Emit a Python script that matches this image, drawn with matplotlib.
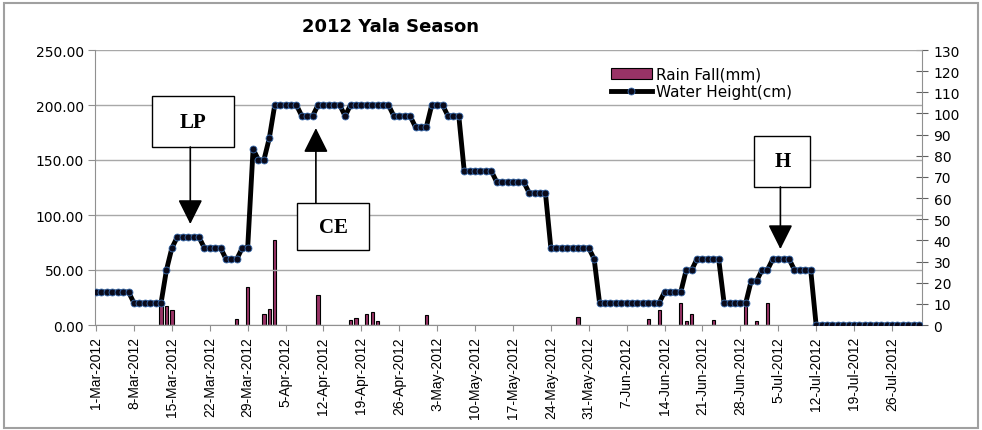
import numpy as np
import pandas as pd
import matplotlib
matplotlib.use("Agg")
import matplotlib.pyplot as plt
import matplotlib.dates as mdates
from matplotlib.patches import Rectangle

## daily water height, 1-Mar-2012 .. 31-Jul-2012
water_height = [
    30, 30, 30, 30, 30, 30, 30, 20, 20, 20, 20, 20, 20, 50, 70, 80, 80, 80, 80, 80,
    70, 70, 70, 70, 60, 60, 60, 70, 70, 160, 150, 150, 170, 200, 200, 200, 200, 200, 190, 190,
    190, 200, 200, 200, 200, 200, 190, 200, 200, 200, 200, 200, 200, 200, 200, 190, 190, 190, 190, 180,
    180, 180, 200, 200, 200, 190, 190, 190, 140, 140, 140, 140, 140, 140, 130, 130, 130, 130, 130, 130,
    120, 120, 120, 120, 70, 70, 70, 70, 70, 70, 70, 70, 60, 20, 20, 20, 20, 20, 20, 20,
    20, 20, 20, 20, 20, 30, 30, 30, 30, 50, 50, 60, 60, 60, 60, 60, 20, 20, 20, 20,
    20, 40, 40, 50, 50, 60, 60, 60, 60, 50, 50, 50, 50, 0, 0, 0, 0, 0, 0, 0,
    0, 0, 0, 0, 0, 0, 0, 0, 0, 0, 0, 0, 0,
]
days = pd.date_range("2012-03-01", "2012-07-31", freq="D")

## rain fall (mm)
rain_dates = ["2012-03-13", "2012-03-14", "2012-03-15", "2012-03-27", "2012-03-29",
              "2012-04-01", "2012-04-02", "2012-04-03", "2012-04-11", "2012-04-17",
              "2012-04-18", "2012-04-20", "2012-04-21", "2012-04-22", "2012-05-01",
              "2012-05-29", "2012-06-11", "2012-06-13", "2012-06-17", "2012-06-18",
              "2012-06-19", "2012-06-23", "2012-06-29", "2012-07-01", "2012-07-03"]
rain_mm = [11, 9, 7, 3, 18,
           5, 7.5, 40, 14, 2.5,
           3.5, 5, 6, 2, 4.5,
           4, 3, 7, 10.5, 2,
           5, 2.5, 11, 2, 10.5]

W, H = 982, 431
fig = plt.figure(figsize=(W / 100, H / 100), dpi=100)
ax = fig.add_axes([95 / W, 1 - 326 / H, (921.7 - 95) / W, (326 - 51) / H])
ax2 = ax.twinx()
ax.set_zorder(ax2.get_zorder() + 1)
ax.patch.set_visible(False)

## bars on the right axis
ax2.bar(pd.to_datetime(rain_dates), rain_mm, width=0.6, color="#993366",
        edgecolor="black", linewidth=0.8, label="Rain Fall(mm)")
ax2.set_ylim(0, 130)
ax2.set_yticks(np.arange(0, 131, 10))

## water line on the left axis
ax.plot(days, water_height, color="black", lw=3.5, marker="o", ms=5,
        mfc="#0a0a1a", mec="#3a6db0", mew=0.6, label="Water Height(cm)", zorder=3)
ax.set_ylim(0, 250)
ax.set_yticks(np.arange(0, 251, 50))
ax.yaxis.set_major_formatter(matplotlib.ticker.FormatStrFormatter("%.2f"))
ax.grid(axis="y", color="#a8a8a8", lw=1)
ax.set_axisbelow(True)

day0 = mdates.date2num(pd.Timestamp("2012-03-01"))
ax.set_xlim(day0 - 0.2, day0 + 152.5)
ticks = pd.date_range("2012-03-01", "2012-07-26", freq="7D")
ax.set_xticks(ticks)
ax.set_xticklabels([f"{d.day}-{d.strftime('%b-%Y')}" for d in ticks], rotation=90,
                   family="Liberation Sans", fontsize=10)

for a in (ax, ax2):
    a.spines["top"].set_visible(False)
    for s in ("left", "right", "bottom"):
        a.spines[s].set_color("#909090")
ax.spines["right"].set_visible(False)
ax2.spines["left"].set_visible(False)
ax2.spines["bottom"].set_visible(False)
ax.tick_params(axis="y", direction="out", length=5, color="#909090", labelsize=10, pad=3)
ax.tick_params(axis="x", direction="out", length=4, color="#909090", pad=4)
ax2.tick_params(axis="y", direction="inout", length=9, color="#606060", labelsize=10, pad=4)

## annotations
boxes = [("LP", 10.3, 162, 15.2, 46, 17.4, 161.8, 91.8),
         ("CE", 37.1, 68, 13.3, 43, 40.6, 111, 179),
         ("H", 121.6, 125.5, 10.3, 46.5, 126.4, 125.5, 69)]
for txt, bx, by, bw, bh, ax_x, y_from, y_to in boxes:
    ax.add_patch(Rectangle((day0 + bx, by), bw, bh, facecolor="white",
                           edgecolor="black", lw=1, zorder=5))
    ax.text(day0 + bx + bw / 2, by + bh / 2, txt, ha="center", va="center",
            family="Liberation Serif", fontweight="bold", fontsize=15, zorder=6)
    ax.annotate("", xy=(day0 + ax_x, y_to), xytext=(day0 + ax_x, y_from),
                arrowprops=dict(arrowstyle="-|>,head_length=0.8,head_width=0.4",
                                color="black", lw=1.2, mutation_scale=19,
                                shrinkA=0, shrinkB=0), zorder=6)

## legend
h1, l1 = ax2.get_legend_handles_labels()
h2, l2 = ax.get_legend_handles_labels()
ax.legend(h1 + h2, l1 + l2, loc="upper left", bbox_to_anchor=(603 / W, 1 - 60 / H),
          bbox_transform=fig.transFigure, frameon=False, fontsize=11,
          handlelength=2.7, handletextpad=0.3, labelspacing=0.15, borderpad=0)

fig.text(391 / W, 1 - 27 / H, "2012 Yala Season", ha="center", va="center",
         fontsize=13, fontweight="bold")

fig.patches.append(Rectangle((4 / W, 2 / H), 974 / W, 425 / H, transform=fig.transFigure,
                             fill=False, edgecolor="#a0a0a0", lw=1.5))

fig.savefig("out.png", dpi=100)
